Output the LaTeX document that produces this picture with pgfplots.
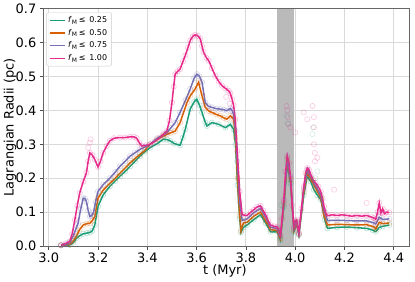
\documentclass[border=0pt]{standalone}
\usepackage{pgfplots}
\pgfplotsset{compat=1.18}
\usepackage{pgfplotstable}
\usepackage{fontspec}
\setmainfont{DejaVu Sans}
\definecolor{cG}{HTML}{1B9E77}
\definecolor{cO}{HTML}{D95F02}
\definecolor{cP}{HTML}{7570B3}
\definecolor{cK}{HTML}{E7298A}

\pgfplotstableread{
t r
3.050 0.003
3.070 0.008
3.085 0.013
3.095 0.035
3.106 0.077
3.116 0.120
3.126 0.157
3.140 0.190
3.153 0.216
3.160 0.250
3.167 0.275
3.177 0.268
3.187 0.255
3.200 0.233
3.210 0.250
3.221 0.275
3.235 0.295
3.248 0.310
3.265 0.318
3.289 0.320
3.310 0.320
3.330 0.322
3.345 0.322
3.357 0.318
3.367 0.305
3.377 0.295
3.395 0.297
3.411 0.300
3.430 0.308
3.452 0.320
3.465 0.330
3.479 0.339
3.490 0.370
3.500 0.423
3.507 0.470
3.513 0.507
3.523 0.515
3.533 0.522
3.545 0.545
3.554 0.562
3.565 0.585
3.574 0.606
3.584 0.618
3.594 0.623
3.605 0.620
3.615 0.611
3.622 0.590
3.628 0.572
3.640 0.555
3.649 0.547
3.662 0.525
3.676 0.502
3.690 0.485
3.703 0.473
3.717 0.465
3.730 0.458
3.737 0.450
3.744 0.433
3.750 0.415
3.757 0.374
3.765 0.280
3.775 0.160
3.785 0.092
3.805 0.090
3.820 0.100
3.832 0.107
3.845 0.115
3.859 0.119
3.870 0.105
3.880 0.092
3.890 0.075
3.900 0.062
3.915 0.058
3.927 0.057
3.935 0.045
3.940 0.033
3.947 0.080
3.954 0.137
3.961 0.220
3.968 0.265
3.975 0.245
3.981 0.206
3.988 0.120
3.995 0.057
4.001 0.075
4.006 0.077
4.010 0.060
4.015 0.039
4.025 0.110
4.035 0.176
4.042 0.215
4.049 0.230
4.056 0.225
4.063 0.211
4.073 0.195
4.083 0.186
4.094 0.175
4.104 0.160
4.111 0.140
4.117 0.117
4.124 0.098
4.131 0.089
4.150 0.092
4.170 0.090
4.190 0.092
4.210 0.090
4.230 0.088
4.250 0.090
4.270 0.088
4.290 0.090
4.310 0.085
4.320 0.082
4.327 0.079
4.334 0.100
4.341 0.127
4.348 0.097
4.355 0.110
4.362 0.095
4.370 0.100
4.382 0.099
}\tabK

\pgfplotstableread{
t r
3.050 0.002
3.070 0.005
3.085 0.010
3.100 0.030
3.110 0.050
3.119 0.067
3.130 0.110
3.140 0.141
3.147 0.140
3.153 0.131
3.160 0.105
3.167 0.087
3.175 0.090
3.182 0.100
3.190 0.130
3.200 0.161
3.221 0.181
3.248 0.200
3.270 0.218
3.289 0.235
3.310 0.250
3.330 0.265
3.350 0.275
3.370 0.285
3.390 0.292
3.411 0.300
3.440 0.318
3.465 0.328
3.479 0.334
3.495 0.348
3.513 0.364
3.533 0.394
3.555 0.430
3.574 0.463
3.590 0.495
3.601 0.507
3.612 0.500
3.622 0.483
3.635 0.423
3.648 0.412
3.662 0.409
3.680 0.405
3.696 0.404
3.710 0.402
3.723 0.399
3.737 0.406
3.745 0.398
3.750 0.389
3.758 0.340
3.765 0.250
3.775 0.130
3.785 0.075
3.805 0.080
3.832 0.098
3.859 0.111
3.880 0.085
3.900 0.055
3.927 0.052
3.940 0.028
3.954 0.130
3.968 0.260
3.981 0.200
3.995 0.052
4.006 0.072
4.015 0.036
4.035 0.168
4.049 0.225
4.063 0.205
4.083 0.178
4.104 0.150
4.117 0.105
4.131 0.075
4.170 0.076
4.210 0.075
4.250 0.074
4.290 0.074
4.320 0.068
4.327 0.065
4.341 0.085
4.355 0.078
4.382 0.080
}\tabP

\pgfplotstableread{
t r
3.050 0.002
3.085 0.005
3.100 0.015
3.113 0.030
3.125 0.048
3.140 0.062
3.155 0.066
3.167 0.067
3.177 0.075
3.187 0.087
3.200 0.141
3.221 0.165
3.248 0.185
3.270 0.200
3.289 0.215
3.310 0.230
3.330 0.245
3.350 0.258
3.370 0.270
3.390 0.282
3.411 0.300
3.440 0.315
3.465 0.324
3.479 0.329
3.495 0.334
3.513 0.339
3.533 0.364
3.561 0.423
3.574 0.443
3.594 0.463
3.608 0.483
3.622 0.443
3.635 0.409
3.650 0.398
3.662 0.394
3.680 0.388
3.696 0.384
3.710 0.378
3.723 0.374
3.737 0.384
3.750 0.374
3.758 0.320
3.766 0.200
3.775 0.090
3.780 0.045
3.790 0.068
3.805 0.070
3.832 0.088
3.859 0.100
3.880 0.075
3.900 0.048
3.927 0.046
3.940 0.022
3.954 0.125
3.968 0.255
3.981 0.195
3.995 0.047
4.006 0.068
4.015 0.035
4.035 0.160
4.049 0.215
4.063 0.198
4.083 0.170
4.104 0.142
4.117 0.090
4.131 0.062
4.170 0.064
4.210 0.063
4.250 0.062
4.290 0.063
4.320 0.056
4.327 0.050
4.341 0.070
4.355 0.066
4.382 0.068
}\tabO

\pgfplotstableread{
t r
3.050 0.002
3.085 0.003
3.100 0.010
3.113 0.023
3.125 0.030
3.140 0.036
3.155 0.038
3.167 0.040
3.177 0.045
3.187 0.062
3.200 0.117
3.221 0.151
3.248 0.176
3.270 0.192
3.289 0.206
3.310 0.220
3.330 0.235
3.350 0.250
3.370 0.265
3.390 0.278
3.411 0.290
3.440 0.302
3.465 0.315
3.480 0.314
3.493 0.310
3.510 0.302
3.533 0.297
3.544 0.320
3.554 0.344
3.574 0.404
3.590 0.425
3.601 0.433
3.612 0.415
3.622 0.394
3.635 0.365
3.642 0.354
3.662 0.364
3.689 0.359
3.717 0.349
3.737 0.359
3.750 0.344
3.758 0.300
3.766 0.180
3.775 0.080
3.780 0.040
3.790 0.055
3.805 0.062
3.832 0.078
3.859 0.092
3.880 0.068
3.900 0.042
3.927 0.042
3.940 0.018
3.954 0.115
3.968 0.245
3.981 0.185
3.995 0.042
4.006 0.065
4.015 0.033
4.035 0.150
4.049 0.206
4.063 0.190
4.076 0.166
4.090 0.150
4.104 0.137
4.120 0.077
4.131 0.052
4.170 0.055
4.210 0.056
4.250 0.054
4.290 0.052
4.314 0.047
4.327 0.042
4.341 0.055
4.355 0.058
4.382 0.062
}\tabG

\pgfplotstableread{
t r
3.160 0.290
3.167 0.305
3.170 0.315
3.720 0.440
3.735 0.420
3.965 0.413
3.968 0.400
3.969 0.380
3.972 0.360
3.980 0.350
4.000 0.335
4.035 0.394
4.049 0.374
4.070 0.413
4.076 0.380
4.076 0.350
4.076 0.300
4.080 0.275
4.080 0.250
4.090 0.260
4.158 0.166
4.290 0.127
}\tabOutK

\pgfplotstableread{
t r
3.965 0.385
3.970 0.362
4.070 0.330
4.072 0.350
4.090 0.220
4.082 0.200
3.944 0.120
}\tabOutG

\begin{document}
\begin{tikzpicture}
\useasboundingbox (-43.3bp,-36bp) rectangle (371.7bp,246bp);
\begin{axis}[
  at={(0,0)}, anchor=south west,
  scale only axis, width=366bp, height=237.3bp,
  xmin=2.978, xmax=4.463, ymin=0, ymax=0.7,
  xtick={3.0,3.2,3.4,3.6,3.8,4.0,4.2,4.4},
  ytick={0,0.1,0.2,0.3,0.4,0.5,0.6,0.7},
  /pgf/number format/assume math mode=true,
  xticklabel style={/pgf/number format/.cd, fixed, fixed zerofill, precision=1},
  yticklabel style={/pgf/number format/.cd, fixed, fixed zerofill, precision=1},
  ticklabel style={font=\fontsize{13}{15}\selectfont},
  tick align=outside, tick pos=left, major tick length=3.5bp,
  tick style={black!70, line width=0.6bp},
  axis line style={black!60, line width=0.7bp},
  grid=major, grid style={black!15, line width=0.8bp},
  xlabel={t (Myr)}, ylabel={Lagrangian Radii (pc)},
  every axis x label/.style={at={(axis description cs:0.496,-0.105)}, anchor=center, font=\fontsize{13}{15}\selectfont},
  every axis y label/.style={at={(axis description cs:-0.091,0.5)}, anchor=center, rotate=90, font=\fontsize{13}{15}\selectfont},
  legend style={at={(axis description cs:0.008,0.985)}, anchor=north west,
    font=\fontsize{8}{9.5}\selectfont, draw=black!20, rounded corners=2bp,
    fill=white, fill opacity=0.85, text opacity=1, row sep=1.2bp,
    inner xsep=2.5bp, inner ysep=2bp},
  legend cell align=left,
  legend image code/.code={\draw[#1, line width=1.4bp] (0bp,0bp) -- (15.7bp,0bp);},
]
\fill[black!27] (axis cs:3.925,0) rectangle (axis cs:3.995,0.7);
\addplot[only marks, mark=o, mark size=2.6bp, cG, opacity=0.28, mark options={line width=0.7bp}, forget plot] table[x=t,y=r] {\tabG};
\addplot[only marks, mark=o, mark size=2.6bp, cO, opacity=0.28, mark options={line width=0.7bp}, forget plot] table[x=t,y=r] {\tabO};
\addplot[only marks, mark=o, mark size=2.6bp, cP, opacity=0.28, mark options={line width=0.7bp}, forget plot] table[x=t,y=r] {\tabP};
\addplot[only marks, mark=o, mark size=2.6bp, cK, opacity=0.28, mark options={line width=0.7bp}, forget plot] table[x=t,y=r] {\tabK};
\addplot[only marks, mark=o, mark size=2.6bp, cK, opacity=0.25, mark options={line width=0.6bp}, forget plot] table[x=t,y=r] {\tabOutK};
\addplot[only marks, mark=o, mark size=2.6bp, cG, opacity=0.2, mark options={line width=0.6bp}, forget plot] table[x=t,y=r] {\tabOutG};
\addplot[cG, line width=1.5bp] table[x=t,y=r] {\tabG};
\addlegendentry{\textit{f}\textsubscript{M}\,≤\, 0.25}
\addplot[cO, line width=1.5bp] table[x=t,y=r] {\tabO};
\addlegendentry{\textit{f}\textsubscript{M}\,≤\, 0.50}
\addplot[cP, line width=1.5bp] table[x=t,y=r] {\tabP};
\addlegendentry{\textit{f}\textsubscript{M}\,≤\, 0.75}
\addplot[cK, line width=1.5bp] table[x=t,y=r] {\tabK};
\addlegendentry{\textit{f}\textsubscript{M}\,≤\, 1.00}
\end{axis}
\end{tikzpicture}
\end{document}
